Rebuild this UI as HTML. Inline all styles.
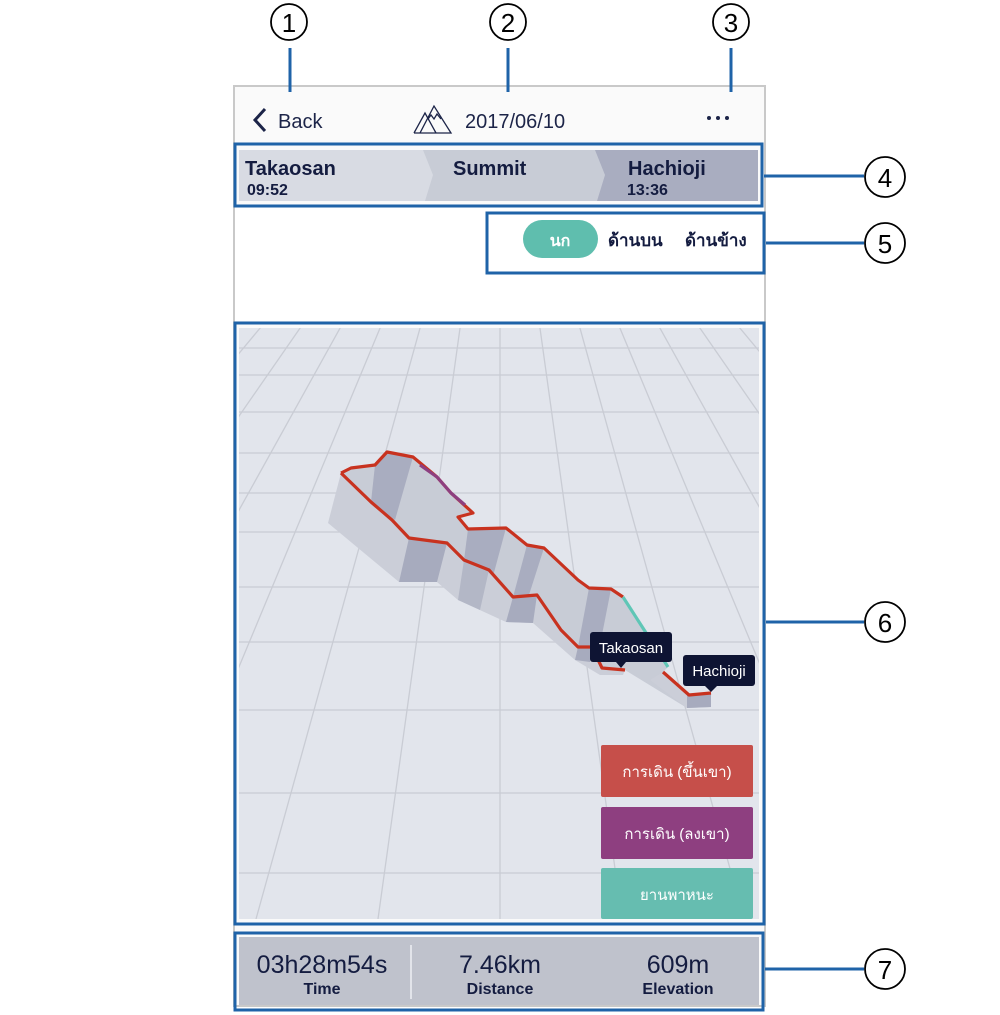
<!DOCTYPE html>
<html><head><meta charset="utf-8"><style>
html,body{margin:0;padding:0;background:#fff;}
svg{display:block;}
text{font-family:"Liberation Sans","DejaVu Sans",sans-serif;}
</style></head><body>
<svg width="1000" height="1015" viewBox="0 0 1000 1015" xmlns="http://www.w3.org/2000/svg">
<rect x="234" y="86" width="531" height="920" fill="#fafafa" stroke="#c9c9c9" stroke-width="2"/>
<rect x="235" y="207" width="529" height="114" fill="#ffffff"/>
<polyline points="265,109 255,120 265,131" fill="none" stroke="#1c2448" stroke-width="3"/>
<text x="278" y="128" font-size="20" fill="#1c2448">Back</text>
<g fill="none" stroke="#1c2448" stroke-width="1.3">
<polyline points="414,133 425,113 436,133"/>
<polyline points="420,133 434,106 451,133 414,133"/>
<polyline points="428,119 431,115 434,119 437,114 441,119"/>
</g>
<text x="465" y="128" font-size="20" fill="#1c2448">2017/06/10</text>
<circle cx="709" cy="118" r="2" fill="#1c2448"/><circle cx="718" cy="118" r="2" fill="#1c2448"/><circle cx="727" cy="118" r="2" fill="#1c2448"/>
<rect x="239" y="150" width="519" height="51" fill="#d8dbe3"/>
<polygon points="423,150 600,150 610,175 602,201 425,201 433,175" fill="#c8ccd6"/>
<polygon points="595,150 758,150 758,201 597,201 605,175" fill="#a9adc0"/>
<text x="245" y="175" font-size="20" fill="#141c40" font-weight="bold">Takaosan</text>
<text x="247" y="195" font-size="16" fill="#141c40" font-weight="bold">09:52</text>
<text x="453" y="175" font-size="20" fill="#141c40" font-weight="bold">Summit</text>
<text x="628" y="175" font-size="20" fill="#141c40" font-weight="bold">Hachioji</text>
<text x="627" y="195" font-size="16" fill="#141c40" font-weight="bold">13:36</text>
<rect x="523" y="220" width="75" height="38" rx="19" fill="#5fbeae"/>
<text x="560" y="246" font-size="16" fill="#fff" text-anchor="middle" font-weight="bold">นก</text>
<text x="608" y="246" font-size="17" fill="#141c40" font-weight="bold">ด้านบน</text>
<text x="685" y="246" font-size="17" fill="#141c40" font-weight="bold">ด้านข้าง</text>
<svg x="239" y="328" width="520" height="591" viewBox="239 328 520 591">
<rect x="239" y="328" width="520" height="591" fill="#e2e5ec"/>
<g stroke="#c9ccd4" stroke-width="1.3">
<line x1="239" y1="348" x2="759" y2="348"/><line x1="239" y1="375" x2="759" y2="375"/>
<line x1="239" y1="412" x2="759" y2="412"/><line x1="239" y1="453" x2="759" y2="453"/>
<line x1="239" y1="493" x2="759" y2="493"/><line x1="239" y1="532" x2="759" y2="532"/>
<line x1="239" y1="587" x2="759" y2="587"/><line x1="239" y1="642" x2="759" y2="642"/>
<line x1="239" y1="710" x2="759" y2="710"/><line x1="239" y1="793" x2="759" y2="793"/>
<line x1="239" y1="873" x2="759" y2="873"/>
<line x1="500" y1="40" x2="500" y2="919"/>
<line x1="500" y1="40" x2="378" y2="919"/><line x1="500" y1="40" x2="622" y2="919"/>
<line x1="500" y1="40" x2="256" y2="919"/><line x1="500" y1="40" x2="744" y2="919"/>
<line x1="500" y1="40" x2="134" y2="919"/><line x1="500" y1="40" x2="866" y2="919"/>
<line x1="500" y1="40" x2="12" y2="919"/><line x1="500" y1="40" x2="988" y2="919"/>
<line x1="500" y1="40" x2="-110" y2="919"/><line x1="500" y1="40" x2="1110" y2="919"/>
<line x1="500" y1="40" x2="-232" y2="919"/><line x1="500" y1="40" x2="1232" y2="919"/>
<line x1="500" y1="40" x2="-354" y2="919"/><line x1="500" y1="40" x2="1354" y2="919"/>
<line x1="500" y1="40" x2="-476" y2="919"/><line x1="500" y1="40" x2="1476" y2="919"/>
</g>
<polygon points="341,473 351,468 375,465 387,452 413,457 437,477 451,493 473,513 458,517 468,529 506,528 527,545 544,548 578,580 589,588 611,589 623,597 668,667 663,672 689,695 711,693 711,707 687,708 625,670 602,668 592,647 578,647 561,630 537,595 513,597 489,570 464,560 447,543 409,538 392,520 371,502" fill="#c8ccd6"/>
<polygon points="375,465 387,452 413,457 395,520 371,502" fill="#a9adc0"/>
<polygon points="468,529 506,528 492,580 464,560" fill="#a9adc0"/>
<polygon points="527,545 544,548 528,598 513,597" fill="#a9adc0"/>
<polygon points="589,588 611,589 600,645 578,647" fill="#a9adc0"/>
<polygon points="341,473 371,502 392,520 409,538 447,543 464,560 489,570 513,597 537,595 561,630 578,647 592,647 602,668 625,670 623,675 600,675 575,660 533,623 506,622 458,600 437,582 399,582 328,523" fill="#cbced8"/>
<polygon points="409,538 447,543 437,582 399,582" fill="#a7abbe"/>
<polygon points="464,560 489,570 480,610 458,600" fill="#b3b7c6"/>
<polygon points="513,597 537,595 533,623 506,622" fill="#a7abbe"/>
<polygon points="578,647 592,647 590,662 575,660" fill="#a7abbe"/>
<polygon points="663,672 689,695 711,693 711,707 687,708 650,680" fill="#cbced8"/>
<polygon points="687,695 711,693 711,707 687,708" fill="#a7abbe"/>
<g fill="none" stroke-width="3.2" stroke-linejoin="round">
<polyline stroke="#c8321f" points="341,473 351,468 375,465 387,452 413,457 437,477 451,493 473,513 458,517 468,529 506,528 527,545 544,548 578,580 589,588 611,589 623,597"/>
<polyline stroke="#8d3f80" points="420,465 437,477 451,493 465,505" />
<polyline stroke="#5fc6b6" points="623,597 668,667"/>
<polyline stroke="#c8321f" points="663,672 689,695 711,693"/>
<polyline stroke="#c8321f" points="341,473 371,502 392,520 409,538 447,543 464,560 489,570 513,597 537,595 561,630 578,647 592,647 602,668 625,670"/>
</g>
<rect x="590" y="632" width="82" height="30" rx="3" fill="#0e1433"/>
<polygon points="616,662 626,662 621,668" fill="#0e1433"/>
<text x="631" y="653" font-size="15" fill="#fff" text-anchor="middle">Takaosan</text>
<rect x="683" y="655" width="72" height="31" rx="3" fill="#0e1433"/>
<polygon points="705,686 717,686 711,692" fill="#0e1433"/>
<text x="719" y="676" font-size="15" fill="#fff" text-anchor="middle">Hachioji</text>
<rect x="601" y="745" width="152" height="52" rx="2" fill="#c64f4a"/>
<text x="677" y="777" font-size="15" fill="#fff" text-anchor="middle">การเดิน (ขึ้นเขา)</text>
<rect x="601" y="807" width="152" height="52" rx="2" fill="#8e3f80"/>
<text x="677" y="839" font-size="15" fill="#fff" text-anchor="middle">การเดิน (ลงเขา)</text>
<rect x="601" y="868" width="152" height="51" rx="2" fill="#66bdb0"/>
<text x="677" y="900" font-size="15" fill="#fff" text-anchor="middle">ยานพาหนะ</text>
</svg>
<rect x="239" y="937" width="520" height="68" fill="#bfc2cc"/>
<line x1="411" y1="945" x2="411" y2="999" stroke="#eef0f4" stroke-width="1.5"/>
<text x="322" y="973" font-size="25" fill="#141c40" text-anchor="middle">03h28m54s</text>
<text x="322" y="994" font-size="16" fill="#141c40" text-anchor="middle" font-weight="bold">Time</text>
<text x="500" y="973" font-size="25" fill="#141c40" text-anchor="middle">7.46km</text>
<text x="500" y="994" font-size="16" fill="#141c40" text-anchor="middle" font-weight="bold">Distance</text>
<text x="678" y="973" font-size="25" fill="#141c40" text-anchor="middle">609m</text>
<text x="678" y="994" font-size="16" fill="#141c40" text-anchor="middle" font-weight="bold">Elevation</text>
<g fill="none" stroke="#1f63a8" stroke-width="3">
<rect x="235" y="144" width="527" height="62"/>
<rect x="487" y="213" width="277" height="60"/>
<rect x="235" y="323" width="529" height="601"/>
<rect x="235" y="933" width="528" height="77"/>
<line x1="290" y1="48" x2="290" y2="92"/>
<line x1="508" y1="48" x2="508" y2="92"/>
<line x1="731" y1="48" x2="731" y2="92"/>
<line x1="764" y1="176" x2="864" y2="176"/>
<line x1="766" y1="243" x2="864" y2="243"/>
<line x1="766" y1="622" x2="864" y2="622"/>
<line x1="765" y1="969" x2="864" y2="969"/>
</g>
<g fill="#fff" stroke="#000" stroke-width="1.8">
<circle cx="289" cy="22" r="18"/><circle cx="508" cy="22" r="18"/><circle cx="731" cy="22" r="18"/>
<circle cx="885" cy="177" r="20"/><circle cx="885" cy="243" r="20"/><circle cx="885" cy="622" r="20"/><circle cx="885" cy="969" r="20"/>
</g>
<g font-size="26" text-anchor="middle" fill="#000">
<text x="289" y="32">1</text><text x="508" y="32">2</text><text x="731" y="32">3</text>
<text x="885" y="187">4</text><text x="885" y="253">5</text><text x="885" y="632">6</text><text x="885" y="979">7</text>
</g>
</svg>
</body></html>
